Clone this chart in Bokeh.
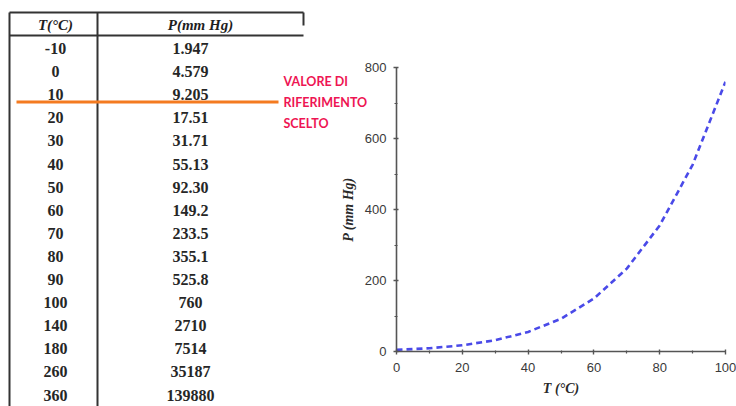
from bokeh.plotting import figure
from bokeh.models import Range1d, ColumnDataSource, FixedTicker
from bokeh.embed import file_html
from bokeh.resources import INLINE
from bokeh.core.properties import value

# ---- data ----
table_T = ["-10", "0", "10", "20", "30", "40", "50", "60", "70", "80", "90", "100", "140", "180", "260", "360"]
table_P = ["1.947", "4.579", "9.205", "17.51", "31.71", "55.13", "92.30", "149.2", "233.5", "355.1", "525.8", "760", "2710", "7514", "35187", "139880"]
curve_T = [0, 10, 20, 30, 40, 50, 60, 70, 80, 90, 100]
curve_P = [4.579, 9.205, 17.51, 31.71, 55.13, 92.30, 149.2, 233.5, 355.1, 525.8, 760]
header_T = "T(°C)"
header_P = "P(mm Hg)"
note_lines = ["VALORE DI", "RIFERIMENTO", "SCELTO"]
x_ticks = [0, 20, 40, 60, 80, 100]
y_ticks = [0, 200, 400, 600, 800]

# ---- layout (pixels) ----
W, H = 736, 406
FL, FR, FT, FB = 396, 725, 67, 351

p = figure(width=W, height=H, output_backend="svg", toolbar_location=None,
           x_range=Range1d(0, 100), y_range=Range1d(0, 800),
           min_border_left=FL, min_border_right=W - FR,
           min_border_top=FT, min_border_bottom=H - FB,
           background_fill_color="white", border_fill_color="white")
p.outline_line_color = None
p.grid.visible = False
# pixel coordinate system for the table part
p.extra_x_ranges = {"px": Range1d(FL, FR)}
p.extra_y_ranges = {"py": Range1d(FB, FT)}

# axes styling
for ax, ticks in ((p.xaxis[0], x_ticks), (p.yaxis[0], y_ticks)):
    ax.ticker = FixedTicker(ticks=ticks, minor_ticks=[t + (ticks[1] - ticks[0]) / 2 for t in ticks[:-1]])
    ax.axis_line_color = "#555555"
    ax.axis_line_width = 1.6
    ax.major_tick_line_color = "#555555"
    ax.minor_tick_line_color = "#555555"
    ax.major_tick_line_width = 1.4
    ax.minor_tick_line_width = 1.2
    ax.major_tick_in = 2
    ax.major_tick_out = 3
    ax.minor_tick_in = 1
    ax.minor_tick_out = 2
    ax.major_label_text_font = "Liberation Sans"
    ax.major_label_text_font_size = "13px"
    ax.major_label_text_color = "#3a3a3a"
    ax.axis_label_text_font = "Liberation Serif"
    ax.axis_label_text_font_style = "bold italic"
    ax.axis_label_text_font_size = "14px"
    ax.axis_label_text_color = "#2a2a2a"

p.xaxis.axis_label = "T (°C)"
p.yaxis.axis_label = "P (mm Hg)"
p.xaxis.major_label_standoff = 8
p.yaxis.major_label_standoff = 7
p.xaxis.axis_label_standoff = 6
p.yaxis.axis_label_standoff = 6

# curve
p.line(curve_T, curve_P, line_color="#4a4ae8", line_width=2.6, line_dash="6 4")

# ---- table ----
n = len(table_T)
row_y = [48 + i * 23.1 for i in range(n)]
src = ColumnDataSource(dict(t=table_T, pv=table_P, y=row_y,
                            xt=[55] * n, xp=[190] * n))
common = dict(x_range_name="px", y_range_name="py", level="overlay")
p.text(x="xt", y="y", text="t", source=src, text_align="center", text_baseline="middle",
       text_font=value("Liberation Serif"), text_font_style="bold", text_font_size="16px",
       text_color="#262626", **common)
p.text(x="xp", y="y", text="pv", source=src, text_align="center", text_baseline="middle",
       text_font=value("Liberation Serif"), text_font_style="bold", text_font_size="16px",
       text_color="#262626", **common)
p.text(x=[55, 200], y=[24, 24], text=[header_T, header_P], text_align="center", text_baseline="middle",
       text_font=value("Liberation Serif"), text_font_style="bold italic", text_font_size="15px",
       text_color="#1e1e1e", **common)
# table lines
p.segment(x0=[9, 9, 9, 97, 303], y0=[12, 35, 12, 12, 12], x1=[303, 303, 9, 97, 303], y1=[12, 35, 406, 406, 25],
          line_color="#333333", line_width=2, **common)
# orange reference line and note
p.segment(x0=[16], y0=[101.5], x1=[278], y1=[101.5], line_color="#f47b20", line_width=3, **common)
p.text(x=[283] * 3, y=[81, 102, 123], text=note_lines, text_align="left", text_baseline="middle",
       text_font=value("Lato"), text_font_style="bold", text_font_size="12.5px", text_color="#ee1553", **common)

open("out.html", "w").write(file_html(p, INLINE))
